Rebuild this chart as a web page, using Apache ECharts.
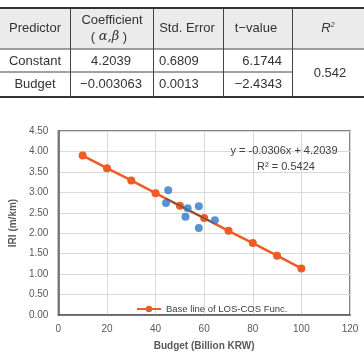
<!DOCTYPE html>
<html>
<head>
<meta charset="utf-8">
<script src="https://cdn.jsdelivr.net/npm/echarts@6/dist/echarts.min.js"></script>
<style>
html, body { margin: 0; padding: 0; background: #fff; }
#main { width: 364px; height: 356px; }
</style>
</head>
<body>
<div id="main"></div>
<script>
// base line of LOS-COS function
var budgetX = [10, 20, 30, 40, 50, 60, 70, 80, 90, 100];
var baseIRI = [3.90, 3.59, 3.29, 2.98, 2.67, 2.37, 2.06, 1.76, 1.45, 1.14];

// observed points (blue)
var obsBudget = [45.2, 44.3, 53.2, 57.8, 52.3, 57.8, 64.4];
var obsIRI = [3.05, 2.74, 2.61, 2.66, 2.40, 2.13, 2.32];

// excel trendline ends
var trendX = [44.3, 64.4];
var trendY = [2.85, 2.23];

var xTicks = [0, 20, 40, 60, 80, 100, 120];
var yTicks = [0, 0.5, 1, 1.5, 2, 2.5, 3, 3.5, 4, 4.5];

// regression table
var rowNames = ['Constant', 'Budget'];
var coefs = ['4.2039', '\u22120.003063'];
var stdErrs = ['0.6809', '0.0013'];
var tValues = ['6.1744', '\u22122.4343'];
var rSquared = '0.542';

var FONT = '"Liberation Sans", Arial, sans-serif';
var ORANGE = '#EF5B25';
var BLUE = '#2E7BC4';

function zip(a, b) {
    var out = [];
    for (var i = 0; i < a.length; i++) out.push([a[i], b[i]]);
    return out;
}

function txt(x, y, s, align, extra) {
    var st = {
        text: s, x: x, y: y, align: align || 'center', verticalAlign: 'middle',
        font: '13px ' + FONT, fill: '#333'
    };
    if (extra) for (var k in extra) st[k] = extra[k];
    return { type: 'text', style: st, z: 10 };
}

function hline(x1, x2, y, w, c) {
    return { type: 'line', shape: { x1: x1, y1: y, x2: x2, y2: y }, style: { stroke: c || '#444', lineWidth: w || 1 }, z: 9 };
}
function vline(x, y1, y2) {
    return { type: 'line', shape: { x1: x, y1: y1, x2: x, y2: y2 }, style: { stroke: '#444', lineWidth: 1 }, z: 9 };
}

// table layout
var tTop = 8, tHead = 49, tMid = 72, tBot = 97;
var colX = [0, 70, 153, 223, 292, 364];
var tableEls = [];
tableEls.push({ type: 'rect', shape: { x: 0, y: tTop, width: 364, height: tHead - tTop }, style: { fill: '#ebebeb' }, z: 8 });
tableEls.push(hline(0, 364, tTop, 2, '#333'));
tableEls.push(hline(0, 364, tHead, 1));
tableEls.push(hline(0, 292, tMid, 1));
tableEls.push(hline(0, 364, tBot, 2, '#333'));
for (var c = 1; c < 5; c++) tableEls.push(vline(colX[c] + 0.5, tTop, tBot));

var hy = (tTop + tHead) / 2;
tableEls.push(txt(35, hy, 'Predictor'));
tableEls.push(txt(112, 20, 'Coefficient'));
tableEls.push({
    type: 'text', z: 10,
    style: {
        text: '( {g|\u03b1,\u03b2} )', x: 109, y: 37, align: 'center', verticalAlign: 'middle',
        font: '13px ' + FONT, fill: '#333',
        rich: { g: { fontFamily: '"DejaVu Serif", serif', fontStyle: 'italic', fontSize: 13, fill: '#333' } }
    }
});
tableEls.push(txt(187, hy, 'Std. Error'));
tableEls.push(txt(256, hy, 't\u2212value'));
tableEls.push({
    type: 'text', z: 10,
    style: {
        text: '{r|R}{s|2}', x: 328, y: hy, align: 'center', verticalAlign: 'middle',
        font: '13px ' + FONT, fill: '#333',
        rich: {
            r: { fontFamily: FONT, fontStyle: 'italic', fontSize: 13, fill: '#333' },
            s: { fontFamily: FONT, fontStyle: 'italic', fontSize: 7, fill: '#333', verticalAlign: 'top', padding: [0, 0, 6, 0] }
        }
    }
});

var rowY = [(tHead + tMid) / 2 + 0.5, (tMid + tBot) / 2];
for (var r = 0; r < 2; r++) {
    tableEls.push(txt(35, rowY[r], rowNames[r]));
    tableEls.push(txt(111, rowY[r], coefs[r]));
    tableEls.push(txt(159, rowY[r], stdErrs[r], 'left'));
    tableEls.push(txt(282, rowY[r], tValues[r], 'right'));
}
tableEls.push(txt(330, (tHead + tBot) / 2, rSquared));
// cut-off caption line above the table
tableEls.push(txt(82, -6, '2016.', 'center'));

// equation label
tableEls.push({
    type: 'text', z: 10,
    style: { text: 'y = -0.0306x + 4.2039', x: 284, y: 151, align: 'center', verticalAlign: 'middle', font: '11px ' + FONT, fill: '#404040' }
});
tableEls.push({
    type: 'text', z: 10,
    style: { text: 'R\u00b2 = 0.5424', x: 286, y: 167, align: 'center', verticalAlign: 'middle', font: '11px ' + FONT, fill: '#404040' }
});

var myChart = echarts.init(document.getElementById('main'), null, { renderer: 'canvas' });

var option = {
    animation: false,
    backgroundColor: '#fff',
    grid: {
        left: 52, right: 14, top: 131, bottom: 37,
        show: true, borderColor: '#595959', borderWidth: 1.5
    },
    legend: {
        data: ['Base line of LOS-COS Func.'],
        left: 131, top: 299,
        itemWidth: 24, itemHeight: 8, itemGap: 2,
        textStyle: { fontFamily: FONT, fontSize: 9.5, color: '#404040' }
    },
    xAxis: {
        type: 'value', min: 0, max: 120, interval: 20,
        name: 'Budget (Billion KRW)', nameLocation: 'middle', nameGap: 26,
        nameTextStyle: { fontFamily: FONT, fontSize: 10, fontWeight: 'bold', color: '#595959' },
        axisLine: { show: true, lineStyle: { color: '#595959', width: 1.5 } },
        axisTick: { show: false },
        axisLabel: { fontFamily: FONT, fontSize: 10, color: '#595959', margin: 9 },
        splitLine: { show: true, lineStyle: { color: '#d9d9d9', width: 1 } }
    },
    yAxis: {
        type: 'value', min: 0, max: 4.5, interval: 0.5,
        name: 'IRI (m/km)', nameLocation: 'middle', nameGap: 33,
        nameTextStyle: { fontFamily: FONT, fontSize: 10, fontWeight: 'bold', color: '#595959' },
        axisLine: { show: true, lineStyle: { color: '#595959', width: 1.5 } },
        axisTick: { show: false },
        axisLabel: {
            fontFamily: FONT, fontSize: 10, color: '#595959', margin: 10,
            formatter: function (v) { return v.toFixed(2); }
        },
        splitLine: { show: true, lineStyle: { color: '#d9d9d9', width: 1 } }
    },
    series: [
        {
            name: 'Base line of LOS-COS Func.',
            type: 'line',
            data: zip(budgetX, baseIRI),
            symbol: 'circle', symbolSize: 8,
            lineStyle: { color: ORANGE, width: 2.5 },
            itemStyle: { color: ORANGE },
            z: 2
        },
        {
            name: 'trend',
            type: 'line',
            data: zip(trendX, trendY),
            symbol: 'none',
            lineStyle: { color: '#5a4a44', width: 1.2 },
            z: 3
        },
        {
            name: 'observed',
            type: 'scatter',
            data: zip(obsBudget, obsIRI),
            symbol: 'circle', symbolSize: 8,
            itemStyle: { color: BLUE },
            z: 4
        }
    ],
    graphic: { elements: tableEls }
};

myChart.setOption(option);
</script>
</body>
</html>
